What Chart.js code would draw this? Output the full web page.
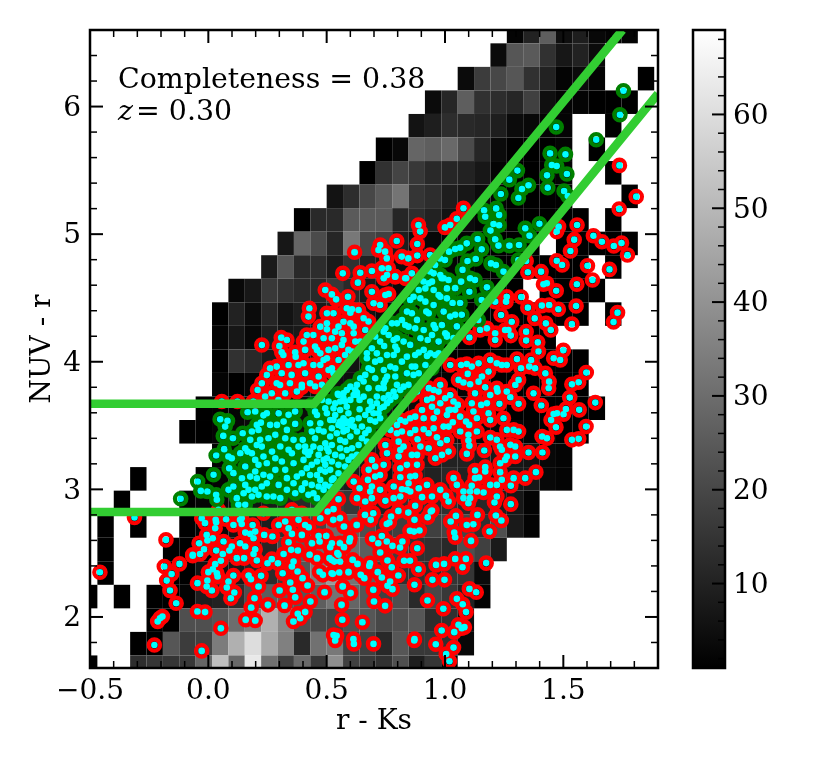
<!DOCTYPE html>
<html>
<head>
<meta charset="utf-8">
<script src="https://cdn.jsdelivr.net/npm/chart.js@4"></script>
<style>
  body { margin: 0; background: #fff; }
  canvas { position: absolute; top: 0; }
</style>
</head>
<body>
<canvas id="mainChart" width="680" height="767" style="left:0;width:680px;height:767px"></canvas>
<canvas id="colorBar" width="170" height="767" style="left:660px;width:170px;height:767px"></canvas>
<script>
const xTicks = [-0.5, 0, 0.5, 1, 1.5];
const xMinorTicks = [-0.4,-0.3,-0.2,-0.1,0.1,0.2,0.3,0.4,0.6,0.7,0.8,0.9,1.1,1.2,1.3,1.4,1.6,1.7,1.8];
const yTicks = [2, 3, 4, 5, 6];
const yMinorTicks = [1.6,1.8,2.2,2.4,2.6,2.8,3.2,3.4,3.6,3.8,4.2,4.4,4.6,4.8,5.2,5.4,5.6,5.8,6.2,6.4];
const barTicks = [10, 20, 30, 40, 50, 60];
const barMinorTicks = [2,4,6,8,12,14,16,18,22,24,26,28,32,34,36,38,42,44,46,48,52,54,56,58,62,64,66,68];

// histogram bins, first column left edge and first row top edge
const binX0 = -0.538, binW = 0.0692;
const binY0 = 6.68, binH = 0.1845;

// counts per cell, top row first, 0 = empty
const heatCounts = [
  [0,0,0,0,0,0,0,0,0,0,0,0,0,0,0,0,0,0,0,0,0,0,0,0,0,0,2,10,26,5,9,3,2,2,0],
  [0,0,0,0,0,0,0,0,0,0,0,0,0,0,0,0,0,0,0,0,0,0,0,0,0,4,24,25,14,7,10,4,0,0,0],
  [0,0,0,0,0,0,0,0,0,0,0,0,0,0,0,0,0,0,0,0,0,0,0,4,17,20,24,14,10,2,4,2,0,0,1],
  [0,0,0,0,0,0,0,0,0,0,0,0,0,0,0,0,0,0,0,0,0,4,11,26,14,13,11,18,5,2,2,1,1,1,0],
  [0,0,0,0,0,0,0,0,0,0,0,0,0,0,0,0,0,0,0,0,6,9,13,12,11,9,4,3,2,2,0,0,1,0,0],
  [0,0,0,0,0,0,0,0,0,0,0,0,0,0,0,0,0,0,1,3,28,26,29,21,11,4,1,1,1,2,0,1,0,0,0],
  [0,0,0,0,0,0,0,0,0,0,0,0,0,0,0,0,0,1,14,19,16,12,11,10,7,2,1,1,1,2,0,0,1,0,0],
  [0,0,0,0,0,0,0,0,0,0,0,0,0,0,0,6,13,20,25,32,15,13,9,7,4,2,1,1,1,1,0,0,0,1,0],
  [0,0,0,0,0,0,0,0,0,0,0,0,0,1,12,12,25,25,25,11,13,10,6,4,2,1,1,1,1,1,1,0,1,0,0],
  [0,0,0,0,0,0,0,0,0,0,0,0,7,28,21,11,33,20,18,9,5,3,2,2,1,1,1,1,0,1,1,1,1,1,0],
  [0,0,0,0,0,0,0,0,0,0,0,8,24,12,13,8,14,10,8,5,3,2,2,1,1,1,1,1,1,1,1,0,1,0,0],
  [0,0,0,0,0,0,0,0,0,3,7,16,14,12,12,16,12,8,6,4,3,2,2,1,1,1,1,0,1,1,1,1,0,0,0],
  [0,0,0,0,0,0,0,0,1,10,4,11,6,9,8,10,8,6,4,3,2,2,1,1,1,1,1,1,1,1,1,0,1,0,0],
  [0,0,0,0,0,0,0,0,2,7,3,9,7,8,7,8,7,5,4,3,2,1,1,1,1,1,1,1,1,0,0,0,0,0,0],
  [0,0,0,0,0,0,0,0,1,14,12,8,7,7,7,6,6,5,4,3,3,2,1,1,1,1,1,1,1,1,1,0,0,0,0],
  [0,0,0,0,0,0,0,0,2,1,2,4,5,5,5,5,5,5,5,4,3,3,2,2,1,1,1,1,1,1,1,0,0,0,0],
  [0,0,0,0,0,0,0,1,1,2,3,3,4,4,4,4,5,5,5,4,4,4,3,3,2,2,1,1,1,1,1,1,0,0,0],
  [0,0,0,0,0,0,1,1,2,3,4,5,5,5,6,6,6,6,6,6,6,6,6,5,4,3,3,2,1,1,1,0,0,0,0],
  [0,0,0,0,0,0,0,0,2,3,4,5,6,7,7,8,8,8,7,8,8,9,10,10,9,8,7,6,3,2,0,0,0,0,0],
  [0,0,0,1,0,0,0,1,2,4,5,6,7,8,9,10,9,8,6,8,10,10,12,10,10,8,8,7,3,2,0,0,0,0,0],
  [0,0,1,0,0,0,1,2,3,4,6,8,10,12,14,18,16,12,10,14,14,13,14,12,12,9,7,2,0,0,0,0,0,0,0],
  [0,1,0,1,0,0,1,2,3,6,7,9,14,18,20,30,26,22,16,18,20,18,20,20,14,22,8,2,0,0,0,0,0,0,0],
  [0,1,0,0,0,1,1,2,4,6,8,11,20,25,30,36,30,26,22,18,14,14,12,22,18,8,0,0,0,0,0,0,0,0,0],
  [0,1,0,0,0,1,1,6,6,8,11,13,17,24,34,42,32,26,18,14,14,13,15,15,4,0,0,0,0,0,0,0,0,0,0],
  [1,0,1,0,1,1,2,9,10,13,22,26,25,24,26,32,28,24,18,22,12,20,16,10,2,0,0,0,0,0,0,0,0,0,0],
  [0,0,0,0,1,1,22,22,24,30,35,48,37,22,20,19,22,24,20,22,24,13,14,5,0,0,0,0,0,0,0,0,0,0,0],
  [0,0,0,1,1,24,17,18,34,48,60,46,35,12,31,33,18,18,12,24,16,16,14,3,0,0,0,0,0,0,0,0,0,0,0],
  [1,0,0,13,15,15,16,28,52,29,63,31,18,29,16,39,18,16,14,22,9,15,1,0,0,0,0,0,0,0,0,0,0,0,0]
];
const countMin = 1, countMax = 69;

// colour-colour selection box
const upperLine = [[-0.5,3.67],[0.447,3.67],[1.75,6.6]];
const lowerLine = [[-0.5,2.823],[0.455,2.823],[1.9,6.1]];

// galaxies inside the box
const greenPoints = [
[1.754,6.124],[1.739,5.936],[1.639,5.74],[1.47,5.84],[1.444,5.633],[1.509,5.625],[1.451,5.542],[1.472,5.534],[1.431,5.461],[1.515,5.471],[1.434,5.364],[1.503,5.338],[1.519,5.299],[1.306,5.498],[1.272,5.427],[1.353,5.383],[1.325,5.354],[1.31,5.283],[1.236,5.315],[1.216,5.202],[1.229,5.15],[1.165,5.187],[1.17,5.137],[1.205,5.08],[1.229,5.07],[1.192,5.028],[1.212,4.96],[1.226,4.91],[1.272,4.91],[1.313,4.915],[1.339,5.046],[1.357,4.988],[1.399,5.082],[1.138,4.962],[1.155,4.881],[1.092,4.928],[1.064,4.894],[1.13,4.805],[1.095,4.79],[1.194,4.771],[1.215,4.758],[1.247,4.706],[1.31,4.798],[1.074,4.72],[1.127,4.641],[1.106,4.654],[1.103,4.549],[1.068,4.628],[1.177,4.583],[1.155,4.484],[1.141,4.327],[1.043,4.884],[1.017,4.863],[1.0,4.798],[0.958,4.758],
[0.889,4.562],[0.896,4.497],[0.917,4.575],[0.867,4.51],[0.853,4.484],[0.973,4.523],[0.98,4.51],[0.952,4.562],[0.994,4.654],[0.98,4.68],[1.015,4.641],[0.921,4.393],[0.931,4.38],[0.839,4.393],[0.86,4.38],[0.882,4.328],[0.952,4.288],[0.959,4.262],[0.927,4.171],[1.001,4.223],[1.008,4.197],[0.846,4.275],[0.797,4.301],[0.776,4.301],[0.748,4.262],[0.741,4.236],[0.705,4.197],[0.797,4.184],[0.783,4.171],[0.853,4.132],[0.889,4.072],[0.874,4.053],[0.938,4.066],[0.924,4.046],[0.79,4.119],[0.797,4.093],[0.783,4.053],[0.743,4.124],[0.712,4.066],[0.67,4.066],[0.67,4.027],[0.726,4.014],[0.769,3.962],[0.79,3.949],[0.86,3.962],[0.874,3.962],[0.691,3.936],[0.741,3.936],[0.642,3.871],[0.656,3.845],[0.628,3.819],[0.755,3.884],[0.748,3.858],[0.741,3.832],[0.797,3.819],[0.719,3.793],[0.741,3.793],[0.811,3.779],[0.585,3.779],[0.628,3.74],[0.571,3.714],[0.889,3.91],[0.91,4.093],[0.973,4.066],[0.959,4.053],
[0.557,3.688],[0.578,3.688],[0.6,3.701],[0.628,3.758],[0.639,3.701],[0.547,3.748],[0.571,3.753],[0.536,3.675],[0.451,3.609],[0.459,3.583],[0.494,3.635],[0.501,3.596],[0.536,3.583],[0.529,3.544],[0.557,3.531],[0.578,3.518],[0.564,3.492],[0.607,3.544],[0.635,3.557],[0.592,3.596],[0.639,3.628],[0.663,3.583],[0.677,3.622],[0.691,3.648],[0.712,3.675],[0.726,3.635],[0.741,3.714],[0.762,3.74],[0.783,3.766],[0.726,3.557],[0.705,3.531],[0.677,3.466],[0.571,3.453],[0.585,3.466],[0.543,3.44],[0.522,3.479],[0.473,3.518],[0.466,3.466],[0.451,3.401],[0.494,3.361],[0.522,3.348],[0.501,3.322],[0.473,3.322],[0.43,3.296],[0.409,3.296],[0.423,3.27],[0.459,3.218],[0.487,3.231],[0.501,3.244],[0.564,3.257],[0.592,3.231],[0.607,3.322],[0.628,3.27],[0.635,3.348],[0.536,3.27],[0.55,3.192],[0.416,3.166],[0.43,3.113],[0.459,3.113],[0.494,3.139],[0.515,3.153],[0.473,3.074],[0.494,3.035],[0.466,3.022],[0.444,2.97],[0.459,2.931],[0.395,2.996],[0.529,3.087],[0.399,3.388],[0.409,3.335],[0.55,3.126],[0.522,3.074],
[0.05,3.55],[0.081,3.537],[0.071,3.492],[0.063,3.419],[0.104,3.401],[0.033,3.265],[0.067,3.315],[0.085,3.257],[0.099,3.244],[0.022,3.114],[-0.045,3.062],[-0.032,2.988],[-0.004,2.983],[0.033,2.957],[0.036,2.918],[0.085,2.996],[-0.117,2.926],[0.088,3.166],[0.106,3.127],[0.156,3.179],[0.156,3.322],[0.166,3.296],[0.145,3.44],[0.184,3.453],[0.212,3.466],[0.222,3.523],[0.233,3.58],[0.166,3.604],[0.198,3.61],[0.261,3.505],[0.29,3.505],[0.318,3.531],[0.332,3.466],[0.367,3.513],[0.367,3.61],[0.254,3.401],[0.219,3.388],[0.283,3.427],[0.304,3.336],[0.339,3.31],[0.353,3.283],[0.269,3.296],[0.283,3.244],[0.247,3.205],[0.212,3.192],[0.198,3.14],[0.177,3.1],[0.205,3.087],[0.233,3.114],[0.156,3.035],[0.17,2.996],[0.212,2.957],[0.247,2.944],[0.275,2.944],[0.325,3.153],[0.332,3.088],[0.374,3.1],[0.332,2.996],[0.367,2.97],[0.12,2.931],[0.127,2.879],[0.156,2.879],[0.395,3.009],[0.184,3.283],[0.233,3.257],[0.205,3.348],[0.381,3.335],
[0.571,3.557],[0.585,3.531],[0.6,3.505],[0.55,3.505],[0.515,3.544],[0.614,3.492],[0.628,3.453],[0.649,3.492],[0.663,3.44],[0.684,3.544],[0.698,3.596],[0.719,3.596],[0.741,3.648],[0.755,3.675],[0.769,3.701],[0.79,3.727],[0.712,3.727],[0.684,3.688],[0.656,3.727],[0.614,3.74],[0.585,3.648],[0.557,3.622],[0.529,3.635],[0.508,3.688],[0.48,3.701],[0.437,3.662],[0.43,3.518],[0.437,3.453],[0.487,3.453],[0.515,3.414],[0.557,3.387],[0.578,3.374],[0.6,3.414],[0.649,3.401],[0.67,3.374],[0.557,3.322],[0.585,3.309],[0.508,3.296],[0.444,3.335],[0.466,3.27],[0.522,3.218],[0.578,3.179],[0.607,3.257],[0.494,3.192],[0.437,3.192],[0.473,3.153],[0.402,3.231],[0.395,3.126],[0.409,3.048],[0.437,3.035],[0.487,2.996],[0.515,3.022],[0.423,2.957],
[0.818,4.327],[0.832,4.288],[0.874,4.262],[0.91,4.249],[0.945,4.21],[0.896,4.184],[0.825,4.158],[0.762,4.21],[0.726,4.158],[0.691,4.106],[0.839,4.04],[0.818,4.001],[0.755,4.053],[0.705,4.001],[0.677,3.949],[0.663,3.897],[0.705,3.871],[0.79,3.884],[0.839,3.91],[0.867,3.897],[0.917,3.975],[0.945,3.949],[0.973,4.158],[0.987,4.288],[0.917,4.471],[0.952,4.445],[0.994,4.393],[1.008,4.497],[0.945,4.628],[0.825,3.805],[0.846,3.819],[0.677,3.793],[0.621,3.779],[0.6,3.805],[0.55,3.74],[0.952,4.693],[0.931,4.615],[1.008,4.575],
[1.043,4.577],[1.032,4.46],[1.064,4.46],[1.071,4.368],[1.043,4.368],[1.022,4.355],[1.008,4.212],[1.05,4.277],[1.036,4.185],[0.986,4.655],[0.979,4.81],[0.937,4.707],[0.909,4.629],
[0.205,3.505],[0.247,3.596],[0.297,3.597],[0.339,3.584],[0.325,3.401],[0.36,3.388],[0.177,3.388],[0.135,3.283],[0.198,3.231],[0.226,3.335],[0.311,3.218],[0.36,3.205],[0.283,3.153],[0.261,3.1],[0.297,3.035],[0.226,3.022],[0.198,2.996],[0.184,2.944],[0.304,2.931],[0.36,3.048],[0.247,3.048],[0.142,3.087],[0.106,3.022],[0.149,2.97]
];

// galaxies outside the box
const redPoints = [
[-0.014,2.735],[0.033,2.742],[0.029,2.695],[0.106,2.721],[0.075,2.766],[0.134,2.761],[0.141,2.729],[0.187,2.721],[0.156,2.661],[0.198,2.669],[0.177,2.651],[0.191,2.617],[0.236,2.643],[0.271,2.63],[0.297,2.721],[0.325,2.748],[0.339,2.695],[0.353,2.651],[0.381,2.761],[0.409,2.721],[0.424,2.703],[0.395,2.643],[0.339,2.586],[0.438,2.578],[0.47,2.591],[0.466,2.635],[0.498,2.635],[0.522,2.578],[0.515,2.547],[-0.007,2.643],[0.019,2.617],[-0.004,2.599],[0.064,2.591],[-0.039,2.578],[0.134,2.578],[0.156,2.552],[0.099,2.552],[0.089,2.521],[0.033,2.521],[-0.018,2.531],[-0.035,2.494],[-0.066,2.487],[0.061,2.494],[0.198,2.531],[0.191,2.494],[0.12,2.461],[0.151,2.461],[0.205,2.442],[0.268,2.453],[0.25,2.421],[0.294,2.421],[0.318,2.494],[0.35,2.526],[0.378,2.521],[0.428,2.487],[0.459,2.461],[0.36,2.434],[0.353,2.395],[0.512,2.461],[0.532,2.434],[0.55,2.487],[0.053,2.44],[0.029,2.414],[0.019,2.374],[0,2.351],[0.036,2.343],[0.039,2.317],[0.106,2.325],[0.17,2.325],[0.18,2.296],[0.223,2.322],[0.314,2.343],[0.377,2.356],[0.398,2.304],[0.47,2.354],[0.484,2.33],[0.526,2.338],[-0.046,2.265],[-0.004,2.286],[-0.007,2.239],[0.015,2.207],[0.085,2.278],[0.078,2.231],[0.11,2.192],[0.095,2.147],[0.212,2.239],[0.195,2.147],[0.181,2.074],[0.252,2.095],[0.301,2.207],[0.346,2.27],[0.357,2.213],[0.367,2.155],[0.322,2.09],[0.419,2.247],[0.431,2.121],[0.491,2.194],[0.409,2.038],[0.378,2.025],[0.388,1.99],[0.36,1.965],[-0.046,2.043],[-0.014,2.038],[0.158,1.978],[0.198,1.972],[0.053,1.912],
[0.528,2.761],[0.556,2.774],[0.573,2.709],[0.627,2.721],[0.662,2.8],[0.697,2.813],[0.686,2.761],[0.772,2.787],[0.765,2.74],[0.754,2.729],[0.803,2.831],[0.845,2.818],[0.871,2.761],[0.852,2.675],[0.869,2.669],[0.892,2.677],[0.94,2.826],[0.927,2.782],[1.046,2.792],[1.024,2.748],[1.092,2.721],[1.12,2.727],[1.137,2.8],[1.039,2.661],[1.043,2.625],[1.11,2.596],[0.556,2.578],[0.573,2.547],[0.599,2.617],[0.596,2.591],[0.693,2.612],[0.733,2.635],[0.718,2.578],[0.754,2.591],[0.778,2.557],[0.82,2.591],[0.81,2.544],[0.883,2.539],[0.726,2.505],[0.545,2.5],[0.521,2.447],[0.556,2.434],[0.61,2.447],[0.63,2.416],[0.683,2.421],[0.68,2.4],[0.757,2.442],[0.775,2.39],[0.827,2.44],[0.852,2.44],[0.888,2.374],[0.962,2.408],[0.996,2.416],[1.043,2.455],[1.088,2.455],[1.074,2.39],[0.521,2.343],[0.553,2.348],[0.592,2.351],[0.644,2.33],[0.659,2.304],[0.716,2.351],[0.733,2.309],[0.803,2.325],[0.768,2.278],[0.757,2.244],[0.778,2.218],[0.871,2.252],[0.947,2.291],[0.998,2.291],[1.103,2.22],[1.132,2.194],[0.568,2.239],[0.601,2.187],[0.697,2.213],[0.563,2.095],[0.7,2.121],[0.747,2.087],[0.926,2.129],[1.05,2.142],[1.075,2.1],[1.089,2.038],[0.993,2.064],[0.566,1.978],[0.651,1.959],[0.986,1.894],[1.039,1.881],[1.057,1.939],[1.071,1.912],[1.082,1.92],[0.542,1.852],[0.871,1.826],[0.613,1.826],
[-0.228,1.78],[-0.028,1.734],[0.529,1.859],[0.536,1.815],[0.615,1.789],[0.698,1.789],[0.87,1.815],[0.961,1.786],[1.036,1.76],[1.005,1.71],[1.019,1.653],
[-0.458,2.35],[-0.179,2.604],[-0.312,2.779],[-0.186,2.395],[-0.155,2.337],[-0.122,2.416],[-0.176,2.285],[-0.162,2.207],[-0.136,2.107],[-0.204,1.99],[-0.194,2.003],[-0.214,1.964],[-0.066,2.48],
[1.597,3.915],[1.565,3.839],[1.536,3.823],[1.527,3.719],[1.635,3.68],[1.567,3.623],[1.511,3.63],[1.501,3.589],[1.473,3.597],[1.459,3.591],[1.448,3.544],[1.469,3.487],[1.596,3.492],[1.565,3.396],[1.536,3.388],[1.431,3.401],[1.41,3.414],[1.412,3.289],[1.353,3.289],[1.374,3.753],[1.407,3.657],[1.44,3.844],[1.438,3.792],[1.395,4.08],[1.459,4.027],[1.487,4.014],[1.424,3.91],[1.381,3.949],[1.356,3.962],[1.321,3.949],[1.364,4.014],[1.304,4.022],[1.311,3.858],[1.297,3.818],[1.261,3.975],[1.219,3.988],[1.184,3.923],[1.156,3.884],[1.142,3.844],[1.142,3.988],[1.092,3.983],[1.068,3.975],[1.078,3.837],[1.106,3.824],[1.096,3.905],[1.17,3.8],[1.219,3.792],[1.222,3.766],[1.276,3.722],[1.311,3.67],[1.23,3.67],[1.177,3.675],[1.153,3.662],[1.113,3.675],[1.12,3.61],[1.135,3.557],[1.191,3.544],[1.089,3.531],[1.102,3.505],[1.033,3.526],[1.043,3.623],[1.054,3.662],[1.036,3.688],[1.022,3.74],[1.233,3.336],[1.276,3.349],[1.24,3.31],[1.261,3.257],[1.297,3.257],[1.254,3.231],[1.191,3.406],[1.099,3.383],[1.103,3.341],[1.092,3.278],[1.166,3.304],[1.127,3.148],[1.17,3.174],[1.17,3.14],[1.144,3.093],[1.233,3.135],[1.29,3.088],[1.339,3.088],[1.384,3.135],[1.278,3.028],[1.219,3.035],[1.24,3.075],[1.036,3.088],[1.05,3.035],[1.113,3.028],[1.106,2.983],[1.163,2.975],[1.135,2.983],[1.106,2.931],[1.099,2.892],[1.078,2.931],[1.219,2.944],[1.209,2.897],[1.278,2.884],[1.215,2.795],[1.238,2.756],[1.188,2.67],[1.174,2.422],
[0.86,3.74],[0.882,3.766],[0.924,3.701],[0.903,3.622],[0.874,3.57],[0.952,3.557],[0.966,3.609],[1.001,3.714],[0.945,3.714],[0.832,3.531],[0.811,3.544],[0.853,3.557],[0.797,3.505],[0.769,3.466],[0.91,3.471],[0.931,3.44],[0.884,3.393],[0.966,3.408],[0.994,3.492],[1.015,3.492],[0.98,3.361],[1.008,3.387],[0.804,3.374],[0.825,3.335],[0.896,3.335],[0.931,3.322],[0.748,3.348],[0.755,3.283],[0.811,3.309],[0.804,3.257],[0.86,3.27],[0.882,3.27],[0.987,3.27],[0.691,3.231],[0.677,3.153],[0.726,3.113],[0.705,3.1],[0.674,3.074],[0.614,3.061],[0.639,3.009],[0.691,3.022],[0.684,2.983],[0.663,2.905],[0.691,2.931],[0.628,2.931],[0.55,2.923],[0.748,2.91],[0.783,2.931],[0.811,3.095],[0.874,3.106],[0.818,3.001],[0.839,2.996],[0.846,3.048],[0.853,2.983],[0.889,3.009],[0.924,3.035],[0.903,2.939],[1.004,2.949],[0.874,2.871],[0.945,2.834],[0.529,2.845],[0.504,2.826],[0.473,2.774],
[0.568,4.693],[0.642,4.698],[0.691,4.711],[0.632,4.62],[0.494,4.562],[0.522,4.528],[0.54,4.489],[0.59,4.51],[0.691,4.549],[0.762,4.531],[0.748,4.523],[0.698,4.458],[0.726,4.445],[0.427,4.419],[0.423,4.354],[0.501,4.38],[0.529,4.38],[0.585,4.419],[0.607,4.411],[0.6,4.385],[0.501,4.301],[0.501,4.254],[0.55,4.275],[0.6,4.301],[0.614,4.275],[0.656,4.341],[0.677,4.315],[0.536,4.236],[0.564,4.223],[0.522,4.184],[0.571,4.171],[0.614,4.223],[0.621,4.158],[0.564,4.132],[0.536,4.106],[0.416,4.21],[0.402,4.158],[0.409,4.093],[0.459,4.093],[0.501,4.027],[0.487,4.014],[0.444,3.975],[0.402,3.988],[0.522,3.949],[0.508,3.936],[0.409,3.91],[0.43,3.832],[0.395,3.819],[0.592,4.093],[0.607,4.08],[0.451,3.806],[0.755,4.68],[0.79,4.667],[0.741,4.654],[0.836,4.654],[0.952,3.779],[0.98,3.819],[0.931,3.793],[0.973,3.766],
[0.226,4.131],[0.308,4.189],[0.332,4.171],[0.3,4.124],[0.31,4.074],[0.367,4.074],[0.317,4.053],[0.369,4.04],[0.261,3.949],[0.31,3.91],[0.352,3.897],[0.226,3.831],[0.208,3.779],[0.289,3.831],[0.303,3.818],[0.345,3.831],[0.268,3.753],[0.226,3.675],[0.123,3.688],[0.057,3.688],[0.381,3.975],[0.325,3.753],[0.374,3.766],[0.19,3.688],[0.296,3.7],[0.395,3.8],
[1.078,5.203],[1.05,5.12],[1.022,5.072],[1.0,5.053],[0.888,5.072],[0.895,5.02],[0.883,4.923],[0.883,4.832],[0.796,4.946],[0.817,4.824],[0.845,4.81],[0.726,4.915],[0.747,4.863],[0.719,4.876],[0.754,4.81],[0.733,4.733],[0.761,4.733],[0.789,4.667],[0.832,4.654],[0.86,4.693],[0.937,4.837],[0.618,4.858],
[1.737,5.539],[1.736,5.197],[1.808,5.294],[1.48,5.059],[1.472,5.02],[1.558,5.072],[1.546,4.957],[1.53,4.868],[1.627,4.988],[1.663,4.941],[1.713,4.907],[1.746,4.931],[1.771,4.837],[1.472,4.792],[1.495,4.758],[1.602,4.753],[1.695,4.724],[1.623,4.641],[1.557,4.607],[1.406,4.706],[1.35,4.701],[1.343,4.79],[1.416,4.607],[1.43,4.615],[1.47,4.557],[1.322,4.508],[1.35,4.424],[1.409,4.44],[1.44,4.445],[1.479,4.411],[1.554,4.437],[1.536,4.296],[1.729,4.385],[1.712,4.312],[1.379,4.34],[1.426,4.301],[1.447,4.249],[1.343,4.236],[1.343,4.166],[1.392,4.152],[1.5,4.09],[1.282,4.314],[1.237,4.367],[1.254,4.249],[1.268,4.249],[1.278,4.205],[1.212,4.223],[1.212,4.171],[1.258,4.471],[1.261,4.51],[1.212,4.471],[1.177,4.262],[1.148,4.249],[1.103,4.19],
[-0.028,2.774],[0.031,2.761],[0.141,2.774],[0.353,2.839],[0.233,2.813],[0.043,2.839],[0.395,2.813],
[1.113,3.962],[1.191,4.014],[1.24,3.975],[1.022,3.975],[1.057,3.858],[1.127,3.753],[1.191,3.74],[1.261,3.766],[1.184,3.596],[1.247,3.557],[1.064,3.57],[1.022,3.623],[1.135,3.453],[1.261,3.466],[1.311,3.453],[1.29,3.466],[1.064,3.453],[1.099,3.427],[1.219,3.388],[1.233,3.205],[1.297,3.336],[1.127,3.088],[1.078,2.983],[1.191,3.035],
[0.797,3.44],[0.853,3.44],[0.874,3.466],[0.818,3.453],[0.98,3.675],[0.945,3.648],[0.91,3.557],[0.952,3.479],[1.015,3.622],[1.008,3.583],[0.839,3.192],[0.882,3.192],[0.811,3.166],[0.959,3.244],[1.015,3.296],[0.705,3.179],[0.741,3.192],[0.853,3.1],[0.811,2.944],[0.945,2.944],[0.98,2.996],[1.015,2.905],[0.726,2.996],[0.783,3.022],
[0.473,4.275],[0.444,4.21],[0.451,4.119],[0.487,4.184],[0.663,4.249],[0.578,4.053],[0.55,4.014],[0.473,3.975],[0.529,3.91],[0.466,3.884],[0.48,3.819],[0.635,4.406],[0.571,4.314],[0.642,4.158],[0.473,4.066],[0.508,4.093],[0.247,3.896],[0.289,3.962],[0.339,3.975],[0.24,3.727]
];

const fontFamily = '"DejaVu Serif", serif';
const ink = '#000';

function grayFor(count) {
  const g = Math.round((count - countMin) / (countMax - countMin) * 255);
  return 'rgb(' + g + ',' + g + ',' + g + ')';
}

const heatmapPlugin = {
  id: 'heatmap',
  beforeDatasetsDraw(chart) {
    const { ctx, chartArea, scales } = chart;
    ctx.save();
    ctx.beginPath();
    ctx.rect(chartArea.left, chartArea.top, chartArea.width, chartArea.height);
    ctx.clip();
    heatCounts.forEach((row, r) => {
      row.forEach((count, c) => {
        if (!count) return;
        const x1 = scales.x.getPixelForValue(binX0 + c * binW);
        const x2 = scales.x.getPixelForValue(binX0 + (c + 1) * binW);
        const y1 = scales.y.getPixelForValue(binY0 - r * binH);
        const y2 = scales.y.getPixelForValue(binY0 - (r + 1) * binH);
        ctx.fillStyle = grayFor(count);
        ctx.fillRect(x1, y1, x2 - x1, y2 - y1);
      });
    });
    ctx.restore();
  }
};

// frame and inward ticks, matplotlib style
function tickMark(ctx, x1, y1, x2, y2, w) {
  ctx.lineWidth = w;
  ctx.beginPath();
  ctx.moveTo(x1, y1);
  ctx.lineTo(x2, y2);
  ctx.stroke();
}

const framePlugin = {
  id: 'frame',
  afterDatasetsDraw(chart) {
    const { ctx, chartArea: a, scales } = chart;
    ctx.save();
    ctx.strokeStyle = ink;
    if (chart.canvas.id === 'mainChart') {
      xTicks.forEach(v => {
        const p = scales.x.getPixelForValue(v);
        tickMark(ctx, p, a.bottom, p, a.bottom - 13, 2);
        tickMark(ctx, p, a.top, p, a.top + 13, 2);
      });
      xMinorTicks.forEach(v => {
        const p = scales.x.getPixelForValue(v);
        tickMark(ctx, p, a.bottom, p, a.bottom - 7, 1.5);
        tickMark(ctx, p, a.top, p, a.top + 7, 1.5);
      });
      yTicks.forEach(v => {
        const p = scales.y.getPixelForValue(v);
        tickMark(ctx, a.left, p, a.left + 13, p, 2);
        tickMark(ctx, a.right, p, a.right - 13, p, 2);
      });
      yMinorTicks.forEach(v => {
        const p = scales.y.getPixelForValue(v);
        tickMark(ctx, a.left, p, a.left + 7, p, 1.5);
        tickMark(ctx, a.right, p, a.right - 7, p, 1.5);
      });
      ctx.fillStyle = ink;
      ctx.textBaseline = 'alphabetic';
      ctx.font = '28.4px ' + fontFamily;
      ctx.fillText('Completeness = 0.38', 118, 88);
      ctx.font = 'italic 28.4px ' + fontFamily;
      ctx.fillText('z', 118, 120);
      ctx.font = '28.4px ' + fontFamily;
      ctx.fillText('= 0.30', 136, 120);
    } else {
      barTicks.forEach(v => {
        const p = scales.y.getPixelForValue(v);
        tickMark(ctx, a.right, p, a.right - 13, p, 2);
      });
      barMinorTicks.forEach(v => {
        const p = scales.y.getPixelForValue(v);
        tickMark(ctx, a.right, p, a.right - 7, p, 1.5);
      });
    }
    ctx.lineWidth = 2.5;
    ctx.strokeRect(a.left, a.top, a.width, a.height);
    ctx.restore();
  }
};

const asXY = p => ({ x: p[0], y: p[1] });

new Chart(document.getElementById('mainChart'), {
  type: 'scatter',
  plugins: [heatmapPlugin, framePlugin],
  data: {
    datasets: [
      { data: upperLine.map(asXY), showLine: true, borderColor: '#32cd32', borderWidth: 8.5, pointRadius: 0, borderJoinStyle: 'miter', clip: 0, order: 0 },
      { data: lowerLine.map(asXY), showLine: true, borderColor: '#32cd32', borderWidth: 8.5, pointRadius: 0, borderJoinStyle: 'miter', clip: 0, order: 0 },
      { data: redPoints.concat(greenPoints).map(asXY), pointRadius: 3.3, pointBorderWidth: 0, pointBackgroundColor: '#00ffff', order: 1 },
      { data: greenPoints.map(asXY), pointRadius: 5.7, pointBorderWidth: 4.2, pointBorderColor: '#008000', pointBackgroundColor: 'rgba(0,0,0,0)', order: 2 },
      { data: redPoints.map(asXY), pointRadius: 5.7, pointBorderWidth: 4.2, pointBorderColor: '#ff0000', pointBackgroundColor: 'rgba(0,0,0,0)', order: 3 }
    ]
  },
  options: {
    responsive: false,
    animation: false,
    events: [],
    layout: { padding: { left: 0, right: 22, top: 30, bottom: 0 } },
    plugins: { legend: { display: false }, tooltip: { enabled: false } },
    scales: {
      x: {
        type: 'linear',
        min: -0.5,
        max: 1.9,
        afterBuildTicks: scale => { scale.ticks = xTicks.map(v => ({ value: v })); },
        afterFit: scale => { scale.height = 99; },
        grid: { display: false, drawTicks: false },
        border: { display: false },
        ticks: {
          color: ink,
          padding: 7,
          maxRotation: 0,
          font: { family: fontFamily, size: 28 },
          callback: v => (v < 0 ? '\u2212' : '') + Math.abs(v).toFixed(1)
        },
        title: { display: true, text: 'r - Ks', color: ink, font: { family: fontFamily, size: 28 }, padding: { top: 0, bottom: 28 } }
      },
      y: {
        type: 'linear',
        min: 1.6,
        max: 6.6,
        afterBuildTicks: scale => { scale.ticks = yTicks.map(v => ({ value: v })); },
        afterFit: scale => { scale.width = 90; },
        grid: { display: false, drawTicks: false },
        border: { display: false },
        ticks: {
          color: ink,
          padding: 9,
          labelOffset: 2,
          font: { family: fontFamily, size: 28 },
          callback: v => String(v)
        },
        title: { display: true, text: 'NUV - r', color: ink, font: { family: fontFamily, size: 28 }, padding: { top: 26, bottom: 0 } }
      }
    }
  }
});

new Chart(document.getElementById('colorBar'), {
  type: 'bar',
  plugins: [framePlugin],
  data: {
    labels: ['count'],
    datasets: [{
      data: [[countMin, countMax]],
      barPercentage: 1,
      categoryPercentage: 1,
      borderWidth: 0,
      backgroundColor: context => {
        const a = context.chart.chartArea;
        if (!a) return '#808080';
        const g = context.chart.ctx.createLinearGradient(0, a.bottom, 0, a.top);
        g.addColorStop(0, '#000000');
        g.addColorStop(1, '#ffffff');
        return g;
      }
    }]
  },
  options: {
    responsive: false,
    animation: false,
    events: [],
    layout: { padding: { left: 33, right: 0, top: 30, bottom: 99 } },
    plugins: { legend: { display: false }, tooltip: { enabled: false } },
    scales: {
      x: { display: false },
      y: {
        position: 'right',
        min: countMin,
        max: countMax,
        afterBuildTicks: scale => { scale.ticks = barTicks.map(v => ({ value: v })); },
        afterFit: scale => { scale.width = 105; },
        grid: { display: false, drawTicks: false },
        border: { display: false },
        ticks: { color: ink, padding: 8, labelOffset: 2, font: { family: fontFamily, size: 28 }, callback: v => String(v) }
      }
    }
  }
});
</script>
</body>
</html>
